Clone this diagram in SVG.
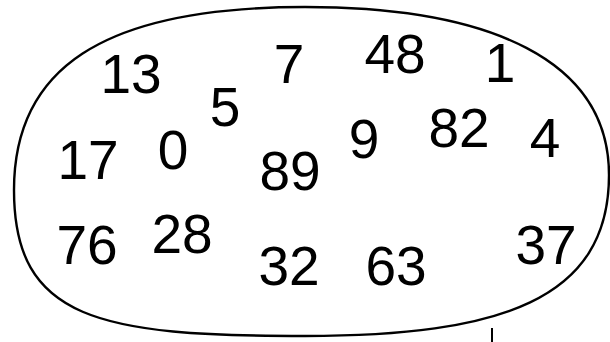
<svg xmlns="http://www.w3.org/2000/svg" width="610" height="342" viewBox="0 0 610 342">
<style>
text{font-family:"Liberation Sans",Arial,sans-serif;font-size:55px;fill:#000;text-anchor:middle}
.blob{fill:none;stroke:#000;stroke-width:2.4}
</style>
<rect width="610" height="342" fill="#fff"/>
<g id="connectors">
<path class="blob" d="M305,7 C490,7 609,60 609,175 C609,300 500,336 305,336 C100,336 14,320 14,190 C14,70 100,7 305,7 Z"/>
<line x1="492" y1="328" x2="492" y2="342" stroke="#000" stroke-width="2"/>
</g>
<g id="n13"><text x="131" y="93">13</text></g>
<g id="n7"><text x="289" y="83">7</text></g>
<g id="n48"><text x="395" y="73">48</text></g>
<g id="n1"><text x="500" y="82">1</text></g>
<g id="n5"><text x="225" y="126">5</text></g>
<g id="n17"><text x="88" y="179">17</text></g>
<g id="n0"><text x="173" y="169">0</text></g>
<g id="n89"><text x="290" y="190">89</text></g>
<g id="n9"><text x="364" y="158">9</text></g>
<g id="n82"><text x="459" y="147">82</text></g>
<g id="n4"><text x="545" y="157">4</text></g>
<g id="n76"><text x="87" y="264">76</text></g>
<g id="n28"><text x="182" y="253">28</text></g>
<g id="n32"><text x="289" y="285">32</text></g>
<g id="n63"><text x="396" y="285">63</text></g>
<g id="n37"><text x="546" y="264">37</text></g>
</svg>
